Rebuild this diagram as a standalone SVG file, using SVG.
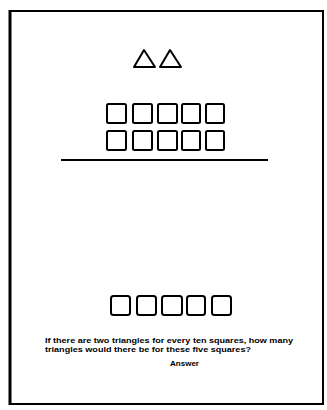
<svg xmlns="http://www.w3.org/2000/svg" width="327" height="410" viewBox="0 0 327 410">
<style>
.sq{fill:#fff;stroke:#000;stroke-width:2}
.tri{fill:#fff;stroke:#000;stroke-width:2;stroke-linejoin:round}
.t{font-family:"Liberation Sans",Arial,sans-serif;font-size:7px;font-weight:bold;fill:#000}
</style>
<rect x="0" y="0" width="327" height="410" fill="#fff"/>
<g id="frame">
<rect x="10" y="11" width="313" height="393" fill="none" stroke="#000" stroke-width="2"/>
<line x1="10" y1="10" x2="10" y2="405" stroke="#000" stroke-width="3"/>
</g>
<g id="triangles">
<polygon class="tri" points="134,67 144,50 155,67"/>
<polygon class="tri" points="160,67 170,50 181,67"/>
</g>
<g id="squares-top">
<rect class="sq" x="107" y="104" width="19" height="19" rx="1.5"/>
<rect class="sq" x="133" y="104" width="19" height="19" rx="1.5"/>
<rect class="sq" x="158" y="104" width="19" height="19" rx="1.5"/>
<rect class="sq" x="182" y="104" width="18" height="19" rx="1.5"/>
<rect class="sq" x="206" y="104" width="18" height="19" rx="1.5"/>
<rect class="sq" x="107" y="131" width="19" height="19" rx="1.5"/>
<rect class="sq" x="133" y="131" width="19" height="19" rx="1.5"/>
<rect class="sq" x="158" y="131" width="19" height="19" rx="1.5"/>
<rect class="sq" x="182" y="131" width="18" height="19" rx="1.5"/>
<rect class="sq" x="206" y="131" width="18" height="19" rx="1.5"/>
</g>
<g id="divider">
<line x1="61" y1="160" x2="268" y2="160" stroke="#000" stroke-width="2"/>
</g>
<g id="squares-bottom">
<rect class="sq" x="111" y="296" width="19" height="19" rx="2.5"/>
<rect class="sq" x="137" y="296" width="19" height="19" rx="2.5"/>
<rect class="sq" x="162" y="296" width="20" height="19" rx="2.5"/>
<rect class="sq" x="187" y="296" width="18" height="19" rx="2.5"/>
<rect class="sq" x="212" y="296" width="19" height="19" rx="2.5"/>
</g>
<g id="question">
<text class="t" x="45" y="343" textLength="248" lengthAdjust="spacingAndGlyphs">If there are two triangles for every ten squares, how many</text>
<text class="t" x="45" y="352" textLength="206" lengthAdjust="spacingAndGlyphs">triangles would there be for these five squares?</text>
<text class="t" x="170" y="366" textLength="29" lengthAdjust="spacingAndGlyphs">Answer</text>
</g>
</svg>
